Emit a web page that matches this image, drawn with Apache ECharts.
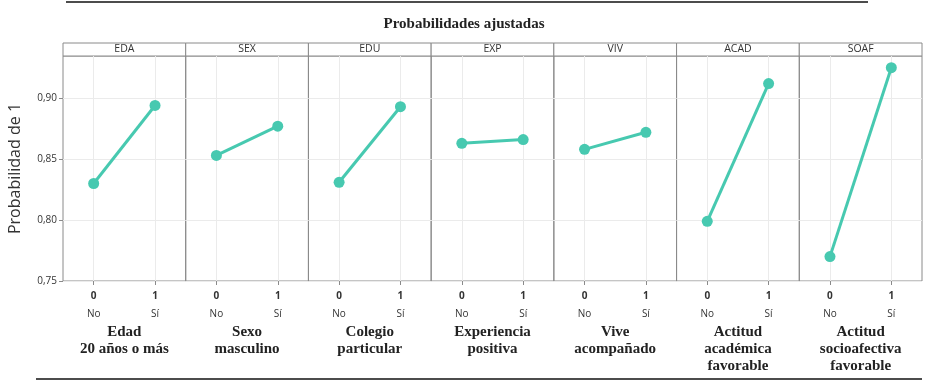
<!DOCTYPE html>
<html>
<head>
<meta charset="utf-8">
<script src="https://cdn.jsdelivr.net/npm/echarts@6/dist/echarts.min.js"></script>
<style>
  html, body { margin: 0; padding: 0; background: #fff; }
  #chart { width: 928px; height: 383px; }
</style>
</head>
<body>
<div id="chart"></div>
<script>
// datos
const facetCodes = ["EDA", "SEX", "EDU", "EXP", "VIV", "ACAD", "SOAF"];
const facetNames = [
  "Edad\n20 años o más",
  "Sexo\nmasculino",
  "Colegio\nparticular",
  "Experiencia\npositiva",
  "Vive\nacompañado",
  "Actitud\nacadémica\nfavorable",
  "Actitud\nsocioafectiva\nfavorable",
];
const levels = ["0", "1"];
const levelNames = ["No", "Sí"];
const probNo = [0.830, 0.853, 0.831, 0.863, 0.858, 0.799, 0.770];
const probSi = [0.894, 0.877, 0.893, 0.866, 0.872, 0.912, 0.925];
const yMin = 0.75, yMax = 0.9346, yStep = 0.05;

const chart = echarts.init(document.getElementById("chart"));

const left0 = 63;
const panelW = (922 - 63) / 7;
const top0 = 56;
const panelH = 225;
const lineColor = "#47c9b0";
const borderColor = "#8a8a8a";

let grid = [], xAxis = [], yAxis = [], series = [], graphic = [];

facetCodes.forEach(function (code, i) {
  const x0 = left0 + i * panelW;
  grid.push({
    left: x0,
    top: top0,
    width: panelW,
    height: panelH,
    show: true,
    borderColor: borderColor,
    borderWidth: 1,
    containLabel: false,
  });
  xAxis.push({
    gridIndex: i,
    type: "category",
    data: levels,
    boundaryGap: true,
    axisLine: { show: false },
    axisTick: { show: true, alignWithLabel: true, length: 4, lineStyle: { color: borderColor } },
    splitLine: { show: true, alignWithLabel: true, lineStyle: { color: "#ebebeb", width: 1 } },
    axisLabel: {
      margin: 6,
      formatter: function (v, idx) {
        return "{a|" + v + "}\n{b|" + levelNames[idx] + "}";
      },
      rich: {
        a: { fontFamily: "Open Sans", fontSize: 10, fontWeight: "bold", color: "#333", lineHeight: 18 },
        b: { fontFamily: "Open Sans", fontSize: 10, color: "#333", lineHeight: 18 },
      },
    },
    name: facetNames[i],
    nameLocation: "middle",
    nameGap: 33,
    nameTextStyle: {
      fontFamily: "Liberation Serif",
      fontWeight: "bold",
      fontSize: 15,
      color: "#222",
      lineHeight: 17,
      verticalAlign: "top",
    },
  });
  yAxis.push({
    gridIndex: i,
    type: "value",
    min: yMin,
    max: yMax,
    interval: yStep,
    axisLine: { show: false },
    axisTick: { show: i === 0, length: 4, lineStyle: { color: borderColor } },
    splitLine: { show: true, showMaxLine: false, lineStyle: { color: "#ebebeb", width: 1 } },
    axisLabel: {
      show: i === 0,
      margin: 6,
      fontFamily: "Open Sans",
      fontSize: 10,
      color: "#333",
      showMaxLabel: false,
      formatter: function (v) {
        if (Math.abs(v / yStep - Math.round(v / yStep)) > 1e-6) return "";
        return v.toFixed(2).replace(".", ",");
      },
    },
    name: i === 0 ? "Probabilidad de 1" : "",
    nameLocation: "middle",
    nameRotate: 90,
    nameGap: 40,
    nameTextStyle: { fontFamily: "Open Sans", fontSize: 16, color: "#333" },
  });
  series.push({
    type: "line",
    xAxisIndex: i,
    yAxisIndex: i,
    data: [probNo[i], probSi[i]],
    symbol: "circle",
    symbolSize: 11,
    lineStyle: { color: lineColor, width: 3 },
    itemStyle: { color: lineColor },
    animation: false,
  });
  // cabecera de cada panel
  graphic.push({
    type: "rect",
    shape: { x: x0, y: 43, width: panelW, height: 13 },
    style: { fill: "#fff", stroke: borderColor, lineWidth: 1 },
  });
  graphic.push({
    type: "text",
    x: x0 + panelW / 2,
    y: 49.5,
    style: {
      text: code,
      fontFamily: "Open Sans",
      fontSize: 10.5,
      fill: "#333",
      align: "center",
      verticalAlign: "middle",
    },
  });
});

graphic.push({
  type: "line",
  shape: { x1: 66, y1: 2, x2: 868, y2: 2 },
  style: { stroke: "#111", lineWidth: 1.5 },
});
graphic.push({
  type: "line",
  shape: { x1: 36, y1: 379, x2: 922, y2: 379 },
  style: { stroke: "#111", lineWidth: 1.5 },
});

chart.setOption({
  backgroundColor: "#fff",
  animation: false,
  title: {
    text: "Probabilidades ajustadas",
    left: "center",
    top: 12,
    textStyle: { fontFamily: "Liberation Serif", fontWeight: "bold", fontSize: 15, color: "#222" },
  },
  grid: grid,
  xAxis: xAxis,
  yAxis: yAxis,
  series: series,
  graphic: graphic,
});
</script>
</body>
</html>
